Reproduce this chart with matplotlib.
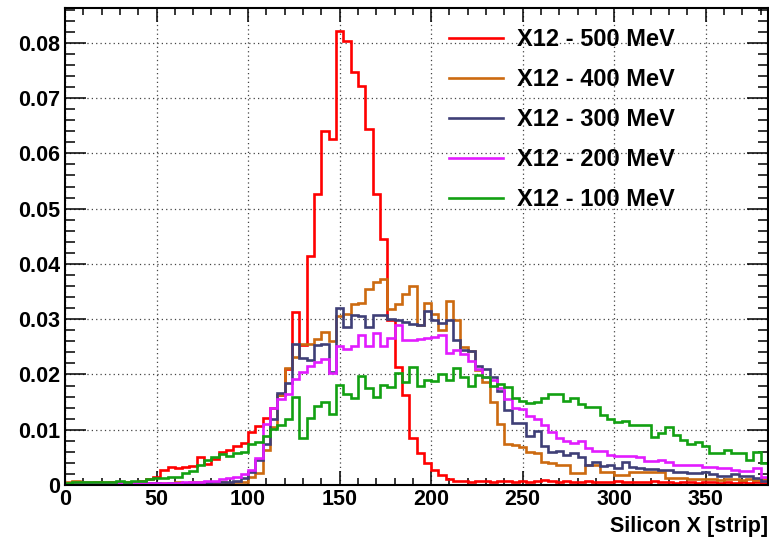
import numpy as np
import matplotlib
matplotlib.use("Agg")
import matplotlib.pyplot as plt
import matplotlib.ticker as ticker

# strip histograms, 96 bins of 4 strips (0-384)
bin_edges = np.arange(0, 385, 4)

labels = ["X12 - 500 MeV", "X12 - 400 MeV", "X12 - 300 MeV", "X12 - 200 MeV", "X12 - 100 MeV"]
colors = ["#ff0000", "#cc6a10", "#3f3f77", "#e21cff", "#12a012"]

h500 = [0.0003, 0.0004, 0.0004, 0.0003, 0.0005, 0.0004, 0.0005, 0.0006, 0.0005, 0.0006, 0.0008, 0.0010,
        0.0014, 0.0028, 0.0032, 0.0031, 0.0033, 0.0035, 0.0050, 0.0038, 0.0047, 0.0059, 0.0063, 0.0070, 0.0076,
        0.0096, 0.0107, 0.0121, 0.0140, 0.0162, 0.0210, 0.0313, 0.0253, 0.0415, 0.0527, 0.0641, 0.0626,
        0.0822, 0.0804, 0.0748, 0.0721, 0.0644, 0.0526, 0.0445, 0.0299, 0.0214, 0.0163, 0.0085, 0.0057,
        0.0040, 0.0027, 0.0018, 0.0010,
        0.0008, 0.0007, 0.0006, 0.0008, 0.0007, 0.0006, 0.0007, 0.0008, 0.0006, 0.0007, 0.0006, 0.0008,
        0.0009, 0.0007, 0.0006, 0.0007, 0.0005, 0.0006, 0.0007, 0.0005, 0.0006, 0.0006, 0.0007, 0.0005,
        0.0006, 0.0005, 0.0006, 0.0007, 0.0005, 0.0006, 0.0004, 0.0005, 0.0006, 0.0004, 0.0005, 0.0005,
        0.0004, 0.0005, 0.0004, 0.0005, 0.0004, 0.0005, 0.0004]

h400 = [0.0005, 0.0007, 0.0006, 0.0005, 0.0006, 0.0005, 0.0004, 0.0005, 0.0006, 0.0004, 0.0005, 0.0004,
        0.0003, 0.0004, 0.0003, 0.0005, 0.0004, 0.0005, 0.0006, 0.0005, 0.0004, 0.0005,
        0.0004, 0.0005, 0.0006, 0.0014, 0.0022, 0.0064, 0.0105, 0.0162, 0.0211, 0.0232, 0.0256, 0.0256,
        0.0265, 0.0276, 0.0260,
        0.0305, 0.0310, 0.0327, 0.0330, 0.0355, 0.0367, 0.0372, 0.0318, 0.0327, 0.0346, 0.0360, 0.0290,
        0.0330, 0.0310, 0.0280, 0.0333, 0.0298, 0.0250, 0.0242, 0.0208,
        0.0187, 0.0150, 0.0111, 0.0074, 0.0072, 0.0068, 0.0060, 0.0058, 0.0042, 0.0040, 0.0036, 0.0036,
        0.0021, 0.0021,
        0.0036, 0.0036, 0.0024, 0.0024, 0.0018, 0.0018, 0.0024, 0.0024, 0.0024, 0.0024, 0.0024, 0.0012,
        0.0012, 0.0012, 0.0010, 0.0010, 0.0011, 0.0010, 0.0009, 0.0010, 0.0010, 0.0009, 0.0010, 0.0009,
        0.0010]

h300 = [0.0002, 0.0003, 0.0002, 0.0003, 0.0002, 0.0003, 0.0003, 0.0002, 0.0003, 0.0003, 0.0002, 0.0003,
        0.0003, 0.0002, 0.0003, 0.0004, 0.0003, 0.0004, 0.0003, 0.0004, 0.0005, 0.0005,
        0.0006, 0.0008, 0.0012, 0.0024, 0.0045, 0.0075, 0.0120, 0.0167, 0.0185, 0.0256, 0.0229, 0.0226,
        0.0253, 0.0256, 0.0204,
        0.0321, 0.0285, 0.0308, 0.0305, 0.0286, 0.0307, 0.0307, 0.0300, 0.0298, 0.0295, 0.0291, 0.0289,
        0.0315, 0.0298, 0.0293, 0.0298,
        0.0263, 0.0245, 0.0242, 0.0215, 0.0210, 0.0195, 0.0170, 0.0135, 0.0113, 0.0112, 0.0089, 0.0098,
        0.0070, 0.0060,
        0.0062, 0.0055, 0.0058, 0.0050, 0.0036, 0.0042, 0.0034, 0.0036, 0.0031, 0.0041, 0.0033, 0.0030,
        0.0029, 0.0029, 0.0027, 0.0027, 0.0024, 0.0024, 0.0022, 0.0021, 0.0023, 0.0019, 0.0017, 0.0017,
        0.0019, 0.0017, 0.0016, 0.0012, 0.0008]

h200 = [0.0002, 0.0003, 0.0003, 0.0002, 0.0003, 0.0004, 0.0003, 0.0004, 0.0003, 0.0004, 0.0003, 0.0004,
        0.0004, 0.0003, 0.0004, 0.0004, 0.0005, 0.0005, 0.0006, 0.0007, 0.0008, 0.0010,
        0.0012, 0.0014, 0.0020, 0.0027, 0.0048, 0.0110, 0.0140, 0.0155, 0.0165, 0.0191, 0.0205, 0.0216,
        0.0223, 0.0228, 0.0203,
        0.0251, 0.0246, 0.0252, 0.0271, 0.0252, 0.0275, 0.0252, 0.0266, 0.0289, 0.0262, 0.0262, 0.0265,
        0.0266, 0.0268, 0.0272, 0.0239, 0.0244, 0.0237, 0.0225, 0.0210,
        0.0195, 0.0190, 0.0175, 0.0155, 0.0140, 0.0138, 0.0125, 0.0120, 0.0108, 0.0096, 0.0085, 0.0079,
        0.0076, 0.0080,
        0.0067, 0.0061, 0.0062, 0.0055, 0.0052, 0.0053, 0.0052, 0.0050, 0.0044, 0.0044, 0.0045, 0.0042,
        0.0036, 0.0036, 0.0036, 0.0036, 0.0033, 0.0032, 0.0030, 0.0030, 0.0028, 0.0026, 0.0025, 0.0030,
        0.0015]

h100 = [0.0004, 0.0005, 0.0005, 0.0006, 0.0005, 0.0006, 0.0006, 0.0007, 0.0006, 0.0008, 0.0008, 0.0011,
        0.0013, 0.0013, 0.0015, 0.0015, 0.0021, 0.0026, 0.0037, 0.0046, 0.0050, 0.0056, 0.0052, 0.0058,
        0.0060,
        0.0075, 0.0078, 0.0088, 0.0102, 0.0108, 0.0120, 0.0159, 0.0085, 0.0122, 0.0143, 0.0150, 0.0128,
        0.0181, 0.0165, 0.0157, 0.0198, 0.0176, 0.0160, 0.0181, 0.0177, 0.0202, 0.0187, 0.0214, 0.0180,
        0.0190, 0.0188, 0.0200, 0.0190, 0.0212,
        0.0196, 0.0179, 0.0199, 0.0196, 0.0180, 0.0183, 0.0178, 0.0158, 0.0152, 0.0149, 0.0150, 0.0158,
        0.0165, 0.0165, 0.0152, 0.0157, 0.0146,
        0.0142, 0.0142, 0.0126, 0.0120, 0.0114, 0.0116, 0.0108, 0.0108, 0.0108, 0.0087, 0.0094, 0.0105,
        0.0090, 0.0081, 0.0074, 0.0078, 0.0070, 0.0057, 0.0058, 0.0063, 0.0057, 0.0058, 0.0045, 0.0059,
        0.0039]

series = [h500, h400, h300, h200, h100]
for s in series:
    assert len(s) == len(bin_edges) - 1, len(s)

plt.rcParams['font.family'] = ['Liberation Sans', 'DejaVu Sans']
plt.rcParams['font.weight'] = 'bold'

fig = plt.figure(figsize=(7.69, 5.37), dpi=100)
ax = fig.add_axes([65/769, 52/537, 703/769, 477/537])

for vals, lab, c in zip(series, labels, colors):
    ax.stairs(vals, bin_edges, color=c, linewidth=1.9, label=lab, baseline=None)

ax.set_xlim(0, 384)
ax.set_ylim(0, 0.0863)

ax.xaxis.set_major_locator(ticker.MultipleLocator(50))
ax.xaxis.set_minor_locator(ticker.MultipleLocator(10))
ax.yaxis.set_major_locator(ticker.MultipleLocator(0.01))
ax.yaxis.set_minor_locator(ticker.MultipleLocator(0.002))
ax.yaxis.set_major_formatter(ticker.FuncFormatter(lambda v, p: "0" if abs(v) < 1e-9 else "%.2f" % v))

ax.tick_params(which='both', direction='in', top=True, right=True, width=1.1, labelsize=15.5)
ax.tick_params(axis='x', which='major', length=10, pad=3)
ax.tick_params(axis='x', which='minor', length=5)
ax.tick_params(axis='y', which='major', length=15, pad=3.5)
ax.tick_params(axis='y', which='minor', length=7.5)
for sp in ax.spines.values():
    sp.set_linewidth(1.5)

ax.grid(True, which='major', linestyle=(0, (1, 2.5)), color='#444444', linewidth=0.9)
ax.set_axisbelow(True)

ax.set_xlabel("Silicon X [strip]", loc='right', fontsize=15.5, fontweight='bold', labelpad=4)

ax.legend(loc='upper left', bbox_to_anchor=(449/769, 1 - 28/537), bbox_transform=fig.transFigure,
          frameon=False, handlelength=2.3, handletextpad=0.6, labelspacing=0.72,
          borderpad=0, borderaxespad=0, prop={'weight': 'bold', 'size': 17})

fig.savefig("out.png", dpi=100)
